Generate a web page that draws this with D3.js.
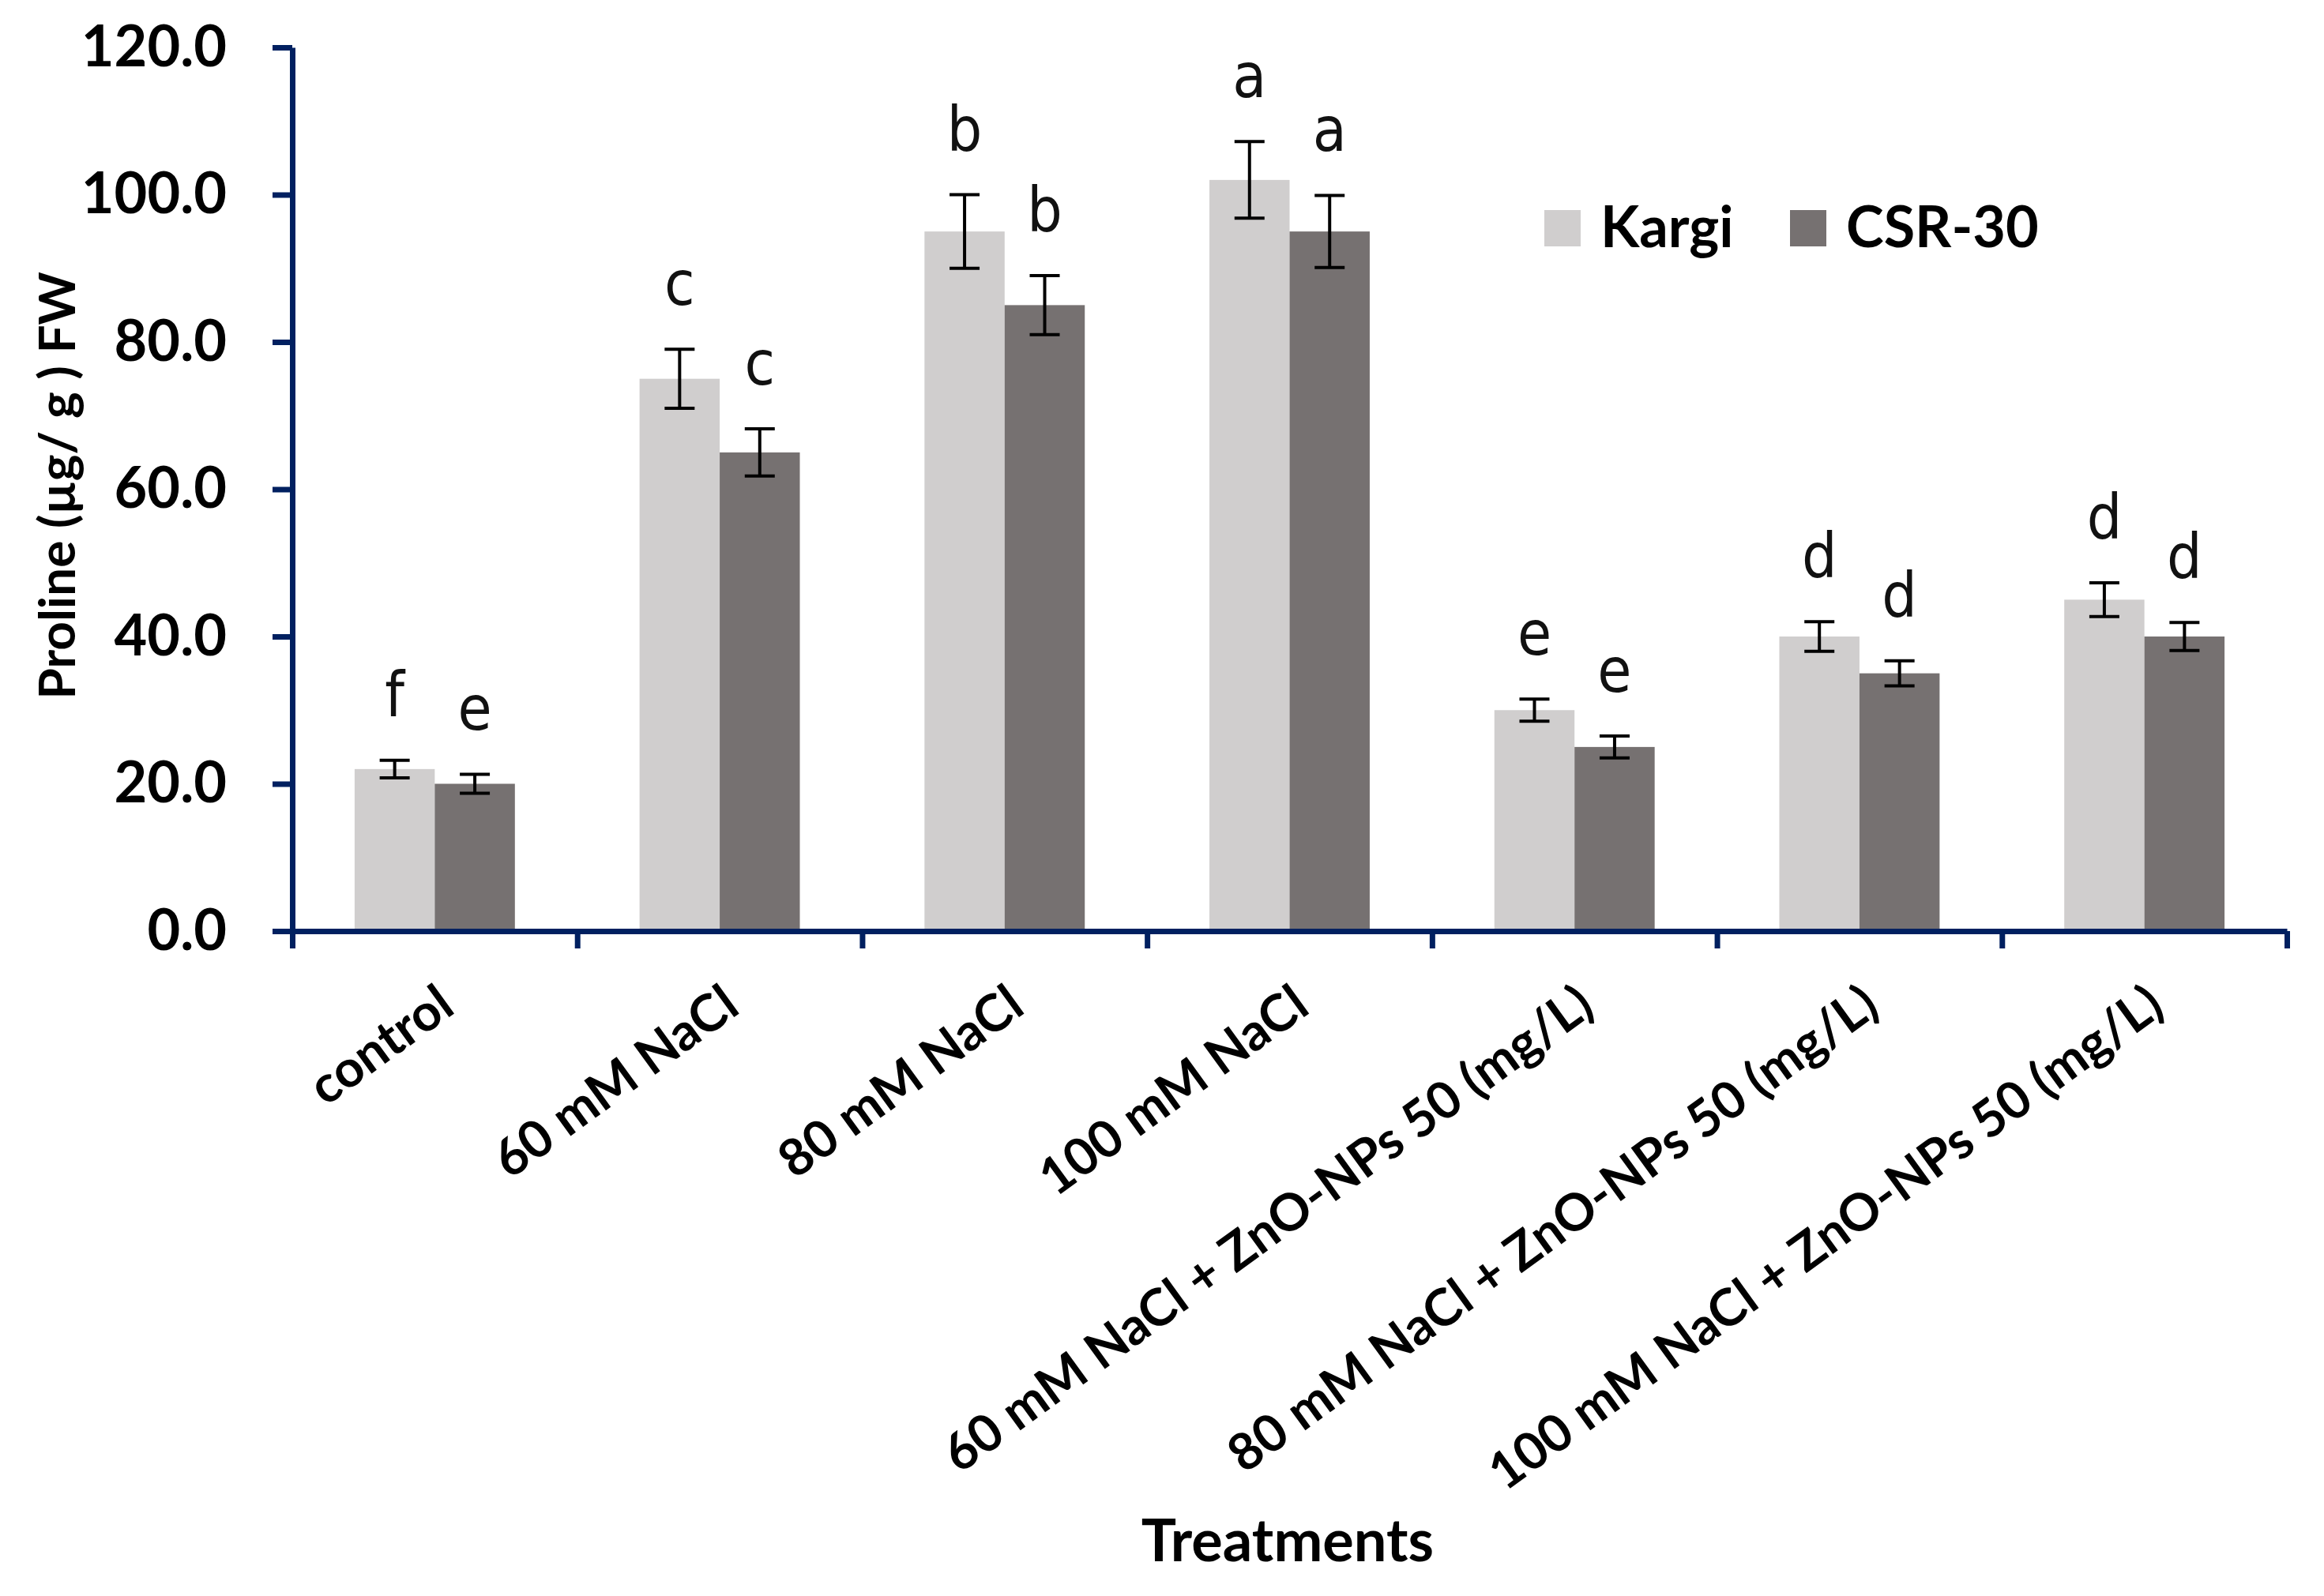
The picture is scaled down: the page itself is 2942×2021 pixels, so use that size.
<!DOCTYPE html>
<html>
<head>
<meta charset="utf-8">
<script src="https://cdn.jsdelivr.net/npm/d3@7"></script>
<style>
    html, body { margin: 0; padding: 0; background: #fff; overflow: hidden; }
    svg { display: block; }
</style>
</head>
<body>
<div id="chart"></div>
<script>
// ---- data ----
const treatments = [
    "control",
    "60 mM NaCl",
    "80 mM NaCl",
    "100 mM NaCl",
    "60 mM NaCl + ZnO-NPs 50 (mg/L)",
    "80 mM NaCl + ZnO-NPs 50 (mg/L)",
    "100 mM NaCl + ZnO-NPs 50 (mg/L)"
];
const seriesNames = ["Kargi", "CSR-30"];
const kargiValues = [22, 75, 95, 102, 30, 40, 45];
const csrValues = [20, 65, 85, 95, 25, 35, 40];
const kargiErrors = [1.2, 4.0, 5.0, 5.2, 1.5, 2.0, 2.3];
const csrErrors = [1.3, 3.2, 4.0, 4.9, 1.5, 1.7, 1.9];
const kargiLetters = ["f", "c", "b", "a", "e", "d", "d"];
const csrLetters = ["e", "c", "b", "a", "e", "d", "d"];
const yTicks = [0, 20, 40, 60, 80, 100, 120];

const colors = { "Kargi": "#d0cece", "CSR-30": "#767171" };
const axisColor = "#002060";

const rows = [];
treatments.forEach((t, i) => {
    rows.push({ treatment: t, series: "Kargi", value: kargiValues[i], err: kargiErrors[i], letter: kargiLetters[i] });
    rows.push({ treatment: t, series: "CSR-30", value: csrValues[i], err: csrErrors[i], letter: csrLetters[i] });
});

const width = 2942;
const height = 2021;
const margin = { top: 60, right: 47, bottom: 842, left: 370 };
const innerWidth = width - margin.left - margin.right;
const innerHeight = height - margin.top - margin.bottom;

const svg = d3.select("#chart").append("svg")
    .attr("width", width)
    .attr("height", height)
    .attr("viewBox", `0 0 ${width} ${height}`);

const chart = svg.append("g")
    .attr("transform", `translate(${margin.left}, ${margin.top})`);

const xScale = d3.scaleBand()
    .domain(treatments)
    .range([0, innerWidth])
    .paddingInner(0.4375)
    .paddingOuter(0.21875);

const xSub = d3.scaleBand()
    .domain(seriesNames)
    .range([0, xScale.bandwidth()]);

// category boundaries for the tick marks
const xEdges = d3.scaleLinear()
    .domain([0, treatments.length])
    .range([0, innerWidth]);

const yScale = d3.scaleLinear()
    .domain([0, 120])
    .range([innerHeight, 0]);

// bars
chart.selectAll(".bar")
    .data(rows)
    .enter()
    .append("rect")
    .attr("class", "bar")
    .attr("x", d => xScale(d.treatment) + xSub(d.series))
    .attr("y", d => yScale(d.value))
    .attr("width", xSub.bandwidth())
    .attr("height", d => innerHeight - yScale(d.value))
    .style("fill", d => colors[d.series]);

// error bars
const capHalf = 19;
const errs = chart.selectAll(".err")
    .data(rows)
    .enter()
    .append("g")
    .attr("class", "err")
    .attr("transform", d => `translate(${xScale(d.treatment) + xSub(d.series) + xSub.bandwidth() / 2}, 0)`)
    .style("stroke", "#000")
    .style("stroke-width", 4);

errs.append("line")
    .attr("x1", 0).attr("x2", 0)
    .attr("y1", d => yScale(d.value + d.err))
    .attr("y2", d => yScale(d.value - d.err));
errs.append("line")
    .attr("x1", -capHalf).attr("x2", capHalf)
    .attr("y1", d => yScale(d.value + d.err))
    .attr("y2", d => yScale(d.value + d.err));
errs.append("line")
    .attr("x1", -capHalf).attr("x2", capHalf)
    .attr("y1", d => yScale(d.value - d.err))
    .attr("y2", d => yScale(d.value - d.err));

// significance letters
chart.selectAll(".letter")
    .data(rows)
    .enter()
    .append("text")
    .attr("class", "letter")
    .attr("x", d => xScale(d.treatment) + xSub(d.series) + xSub.bandwidth() / 2)
    .attr("y", d => yScale(d.value + d.err) - 56)
    .attr("text-anchor", "middle")
    .style("font-family", "'Liberation Sans Narrow', 'DejaVu Sans Condensed', 'Liberation Sans', sans-serif")
    .style("font-size", "78px")
    .style("fill", "#111")
    .text(d => d.letter);

// axes
const yAxis = d3.axisLeft(yScale)
    .tickValues(yTicks)
    .tickFormat(d3.format(".1f"))
    .tickSize(25)
    .tickSizeOuter(0)
    .tickPadding(58);

const yAxisG = chart.append("g")
    .attr("class", "y-axis")
    .call(yAxis);

const xAxis = d3.axisBottom(xEdges)
    .tickValues(d3.range(treatments.length + 1))
    .tickFormat("")
    .tickSize(22)
    .tickSizeOuter(0);

const xAxisG = chart.append("g")
    .attr("class", "x-axis")
    .attr("transform", "translate(0, " + innerHeight + ")")
    .call(xAxis);

[yAxisG, xAxisG].forEach(g => {
    g.selectAll("path, line")
        .style("stroke", axisColor)
        .style("stroke-width", 7);
});
yAxisG.selectAll("text")
    .style("font-family", "Lato, 'Open Sans', sans-serif")
    .style("font-weight", "bold")
    .style("font-size", "72px")
    .style("fill", "#000");

// rotated category labels
const labelX = d => xScale(d) + xScale.bandwidth() / 2 + 28;
const labelY = innerHeight + 102;
chart.selectAll(".cat-label")
    .data(treatments)
    .enter()
    .append("text")
    .attr("class", "cat-label")
    .attr("x", labelX)
    .attr("y", labelY)
    .attr("transform", d => `rotate(-36, ${labelX(d)}, ${labelY})`)
    .attr("text-anchor", "end")
    .style("font-family", "Lato, 'Open Sans', sans-serif")
    .style("font-weight", "bold")
    .style("font-size", "65px")
    .style("fill", "#000")
    .text(d => d);

// axis titles
svg.append("text")
    .attr("x", 95)
    .attr("y", 615)
    .attr("transform", "rotate(-90, 95, 615)")
    .attr("text-anchor", "middle")
    .style("font-family", "Lato, 'Open Sans', sans-serif")
    .style("font-weight", "bold")
    .style("font-size", "64px")
    .style("fill", "#000")
    .text("Proline (µg/ g ) FW");

svg.append("text")
    .attr("x", 1630)
    .attr("y", 1977)
    .attr("text-anchor", "middle")
    .style("font-family", "Lato, 'Open Sans', sans-serif")
    .style("font-weight", "bold")
    .style("font-size", "74px")
    .style("fill", "#000")
    .text("Treatments");

// legend
const legend = svg.append("g")
    .attr("transform", "translate(1955, 266)");

const legendItems = legend.selectAll(".legend-item")
    .data(seriesNames)
    .enter()
    .append("g")
    .attr("class", "legend-item")
    .attr("transform", (d, i) => `translate(${i * 311}, 0)`);

legendItems.append("rect")
    .attr("width", 46)
    .attr("height", 46)
    .style("fill", d => colors[d]);

legendItems.append("text")
    .attr("x", 71)
    .attr("y", 47)
    .style("font-family", "Lato, 'Open Sans', sans-serif")
    .style("font-weight", "bold")
    .style("font-size", "72px")
    .style("fill", "#000")
    .text(d => d);
</script>
</body>
</html>
